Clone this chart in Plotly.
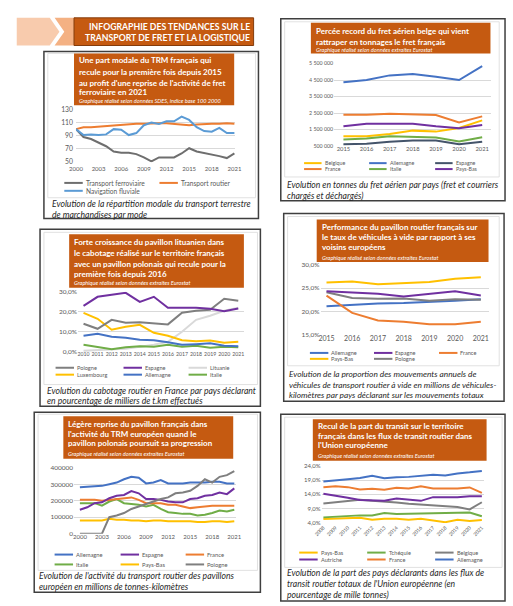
import plotly.graph_objects as go

W, H = 513, 606
FONT = "Lato"

# ---------------- DATA ----------------
# Panel 1 : répartition modale (indice base 100 2000)
p1_years = [2000, 2001, 2002, 2003, 2004, 2005, 2006, 2007, 2008, 2009, 2010,
            2011, 2012, 2013, 2014, 2015, 2016, 2017, 2018, 2019, 2020, 2021]
p1_ferroviaire = [100, 88, 85, 80, 74, 66, 64, 64, 62, 57, 51,
                  57, 57, 57, 63, 71, 66, 64, 61, 59, 56, 63]
p1_routier = [100, 103, 103, 104, 104, 106, 107, 108, 108, 108, 109,
              109, 109, 108, 106, 106, 107, 108, 108, 108, 109, 108]
p1_fluviale = [100, 91, 92, 91, 92, 100, 99, 91, 94, 106, 110,
               108, 112, 112, 119, 114, 103, 97, 96, 102, 94, 94]
p1_xticks = [2000, 2003, 2006, 2009, 2012, 2015, 2018, 2021]
p1_yticks = [50, 70, 90, 110, 130]

# Panel 2 : fret aérien (tonnes)
p2_years = [2015, 2016, 2017, 2018, 2019, 2020, 2021]
p2_belgique = [1100000, 1100000, 1240000, 1440000, 1380000, 1600000, 2060000]
p2_allemagne = [4360000, 4500000, 4780000, 4860000, 4700000, 4500000, 5340000]
p2_espagne = [620000, 640000, 760000, 840000, 840000, 620000, 760000]
p2_france = [2400000, 2400000, 2460000, 2400000, 2380000, 1940000, 2300000]
p2_italie = [900000, 960000, 1100000, 1040000, 1020000, 780000, 1040000]
p2_paysbas = [1700000, 1860000, 1860000, 1860000, 1700000, 1580000, 1780000]
p2_yticks = [500000, 1500000, 2500000, 3500000, 4500000, 5500000]
p2_yticktext = ["500 000", "1 500 000", "2 500 000", "3 500 000", "4 500 000", "5 500 000"]

# Panel 3 : cabotage routier en France (%)
p3_years = [2010, 2011, 2012, 2013, 2014, 2015, 2016, 2017, 2018, 2019, 2020, 2021]
p3_pologne = [14.0, 11.5, 16.0, 14.5, 14.8, 14.3, 13.7, 19.5, 20.5, 21.0, 26.5, 25.5]
p3_espagne = [23.0, 27.5, 28.5, 29.5, 25.0, 27.5, 22.0, 22.0, 22.0, 21.5, 20.3, 21.7]
p3_lituanie = [0.5, 0.8, 1.0, 1.5, 2.5, 3.5, 5.0, 10.0, 16.0, 18.0, 20.5, 22.0]
p3_luxembourg = [19.5, 16.5, 11.0, 12.5, 13.5, 9.5, 8.0, 5.8, 5.3, 5.6, 4.5, 5.0]
p3_allemagne = [8.0, 9.0, 7.5, 7.0, 6.0, 5.8, 4.7, 3.5, 3.8, 4.2, 3.0, 2.8]
p3_italie = [3.5, 2.5, 1.2, 2.2, 2.8, 2.5, 3.5, 2.5, 3.0, 2.0, 2.5, 2.2]
p3_yticks = [0, 10, 20, 30]
p3_yticktext = ["0,0%", "10,0%", "20,0%", "30,0%"]

# Panel 4 : véhicules à vide (%)
p4_years = [2015, 2016, 2017, 2018, 2019, 2020, 2021]
p4_allemagne = [21.1, 21.4, 21.7, 21.8, 22.0, 22.3, 22.6]
p4_espagne = [24.3, 24.1, 23.8, 23.2, 23.8, 24.3, 23.4]
p4_france = [23.4, 19.7, 18.1, 17.8, 17.3, 17.3, 17.8]
p4_paysbas = [26.2, 26.4, 25.8, 26.0, 26.3, 27.0, 27.3]
p4_pologne = [24.1, 22.9, 22.7, 22.8, 22.3, 22.6, 22.5]
p4_yticks = [15, 20, 25, 30]
p4_yticktext = ["15,0%", "20,0%", "25,0%", "30,0%"]

# Panel 5 : activité du transport routier (millions t.km)
p5_years = [2000, 2001, 2002, 2003, 2004, 2005, 2006, 2007, 2008, 2009, 2010,
            2011, 2012, 2013, 2014, 2015, 2016, 2017, 2018, 2019, 2020, 2021]
p5_allemagne = [281000, 285000, 285000, 290000, 300000, 310000, 330000, 345000, 340000, 305000, 310000,
                325000, 305000, 305000, 305000, 310000, 310000, 310000, 315000, 315000, 305000, 305000]
p5_espagne = [145000, 160000, 185000, 190000, 215000, 230000, 235000, 258000, 245000, 210000, 210000,
              205000, 195000, 190000, 190000, 210000, 215000, 230000, 235000, 250000, 240000, 275000]
p5_france = [205000, 205000, 205000, 200000, 205000, 210000, 215000, 220000, 205000, 185000, 185000,
             185000, 175000, 175000, 165000, 155000, 160000, 165000, 170000, 170000, 170000, 170000]
p5_italie = [185000, 185000, 185000, 170000, 195000, 210000, 185000, 180000, 175000, 165000, 175000,
             150000, 130000, 125000, 120000, 120000, 110000, 115000, 125000, 140000, 135000, 145000]
p5_paysbas = [80000, 80000, 80000, 80000, 90000, 85000, 85000, 80000, 80000, 75000, 80000,
              80000, 75000, 75000, 75000, 75000, 70000, 70000, 75000, 75000, 70000, 75000]
p5_pologne = [0, 0, 0, 0, 100000, 110000, 125000, 150000, 165000, 180000, 195000,
              210000, 220000, 245000, 250000, 260000, 290000, 330000, 310000, 345000, 355000, 380000]
p5_xticks = [2000, 2003, 2006, 2009, 2012, 2015, 2018, 2021]
p5_yticks = [0, 100000, 200000, 300000, 400000]
p5_yticktext = ["0", "100000", "200000", "300000", "400000"]

# Panel 6 : part du transit routier UE (%)
p6_years = [2008, 2009, 2010, 2011, 2012, 2013, 2014, 2015, 2016, 2017, 2018, 2019, 2020, 2021]
p6_paysbas = [5.3, 5.5, 5.6, 5.8, 5.1, 5.4, 5.4, 5.1, 5.4, 4.7, 4.2, 5.1, 4.6, 5.0]
p6_tchequie = [5.9, 6.2, 6.3, 6.6, 6.6, 7.4, 7.1, 7.2, 7.3, 7.5, 7.4, 7.7, 7.6, 6.3]
p6_belgique = [10.8, 11.2, 11.7, 12.1, 11.7, 11.5, 11.1, 10.7, 10.4, 10.0, 9.6, 9.5, 8.7, 11.2]
p6_autriche = [14.2, 13.6, 12.8, 12.0, 11.9, 11.7, 12.5, 12.0, 11.7, 13.0, 13.0, 13.0, 13.3, 13.3]
p6_france = [16.5, 16.8, 16.5, 15.7, 15.9, 15.6, 16.3, 16.0, 16.8, 16.0, 16.0, 16.0, 16.4, 14.5]
p6_allemagne = [18.5, 19.0, 19.3, 19.7, 20.5, 19.6, 20.0, 20.1, 20.5, 20.8, 20.6, 21.3, 21.7, 22.2]
p6_yticks = [4, 9, 14, 19, 24]
p6_yticktext = ["4,0%", "9,0%", "14,0%", "19,0%", "24,0%"]

# ---------------- STYLE ----------------
BLUE = "#4472C4"
LBLUE = "#5B9BD5"
ORANGE = "#ED7D31"
GRAY = "#7F7F7F"
DGRAY = "#6E6E6E"
PURPLE = "#7030A0"
YELLOW = "#FFC000"
GREEN = "#70AD47"
NAVY = "#44546A"
LGRAY = "#D9D9D9"
BRICK = "#C55A11"
TICK = "#595959"
TITLE_FS = 8.0
CAP_FS = 8.6


def X(px):
    return px / W


def Y(py):
    return 1 - py / H


fig = go.Figure()
layout = dict(
    width=W, height=H, margin=dict(l=0, r=0, t=0, b=0),
    paper_bgcolor="white", plot_bgcolor="rgba(0,0,0,0)",
    showlegend=False, font=dict(family=FONT, color=TICK),
)
shapes = []
annots = []


def add_axes(n, xd, yd, xr, yr, xtv, xtt, ytv, ytt, xfs=6, yfs=6.5, xangle=0, xstand=-2, ystand=0):
    sx = "" if n == 1 else str(n)
    layout["xaxis" + sx] = dict(
        domain=[X(xd[0]), X(xd[1])], range=xr, anchor="y" + sx,
        tickmode="array", tickvals=xtv, ticktext=xtt, tickangle=xangle,
        showgrid=False, zeroline=False, showline=False, ticks="",
        ticklabelstandoff=xstand,
        tickfont=dict(size=xfs, color=TICK, family=FONT), fixedrange=True)
    layout["yaxis" + sx] = dict(
        domain=[Y(yd[1]), Y(yd[0])], range=yr, anchor="x" + sx,
        tickmode="array", tickvals=ytv, ticktext=ytt,
        showgrid=True, gridcolor=LGRAY, gridwidth=0.8, zeroline=False,
        showline=False, ticks="", ticklabelstandoff=ystand,
        tickfont=dict(size=yfs, color=TICK, family=FONT), fixedrange=True)


def add_line(n, x, y, name, color, width=2):
    sx = "" if n == 1 else str(n)
    fig.add_trace(go.Scatter(x=x, y=y, name=name, mode="lines",
                             line=dict(color=color, width=width),
                             xaxis="x" + sx, yaxis="y" + sx))


def box(x0, y0, x1, y1, line="#3F3F3F", lw=1.5, fill="rgba(0,0,0,0)", layer="below"):
    shapes.append(dict(type="rect", xref="paper", yref="paper",
                       x0=X(x0), x1=X(x1), y0=Y(y1), y1=Y(y0),
                       line=dict(color=line, width=lw), fillcolor=fill, layer=layer))


def text(x, y, s, size, color="white", anchor="left", italic=False, bold=False):
    if bold:
        s = "<b>" + s + "</b>"
    if italic:
        s = "<i>" + s + "</i>"
    annots.append(dict(xref="paper", yref="paper", x=X(x), y=Y(y), text=s,
                       showarrow=False, xanchor=anchor, yanchor="middle",
                       font=dict(size=size, color=color, family=FONT)))


def title_block(x, ys, lines, sub):
    for yy, ln in zip(ys[:-1], lines):
        text(x, yy, ln, TITLE_FS, bold=True)
    text(x, ys[-1], sub, 5.6, italic=True)


def caption(x, ys, lines, size=CAP_FS):
    for yy, ln in zip(ys, lines):
        text(x, yy, ln, size, color="#262626", italic=True)


def legend(items, cols, rows, size=5.8, sample=19):
    for i, (name, color) in enumerate(items):
        cx = cols[i % len(cols)]
        ry = rows[i // len(cols)]
        shapes.append(dict(type="line", xref="paper", yref="paper",
                           x0=X(cx), x1=X(cx + sample), y0=Y(ry), y1=Y(ry),
                           line=dict(color=color, width=2)))
        text(cx + sample + 1, ry, name, size, color=TICK)


# ---------------- HEADER ----------------
shapes.append(dict(type="path", xref="paper", yref="paper",
                   path="M {},{} L {},{} L {},{} L {},{} L {},{} Z".format(
                       X(9), Y(14), X(43), Y(14), X(53), Y(28), X(43), Y(42), X(9), Y(42)),
                   fillcolor="#F8CBAD", line=dict(width=0)))
shapes.append(dict(type="path", xref="paper", yref="paper",
                   path="M {},{} L {},{} L {},{} L {},{} L {},{} Z".format(
                       X(48), Y(14), X(70), Y(14), X(70), Y(42), X(48), Y(42), X(58), Y(28)),
                   fillcolor="#F4B183", line=dict(width=0)))
box(68, 14, 253, 42, line="#843C0C", lw=1, fill=BRICK, layer="above")
text(251, 23, "INFOGRAPHIE DES TENDANCES SUR LE", 8.7, anchor="right", bold=True)
text(251, 34, "TRANSPORT DE FRET ET LA LOGISTIQUE", 8.7, anchor="right", bold=True)

# ---------------- PANEL 1 ----------------
box(37, 48, 258, 217)
box(41, 50, 255, 196, line=LGRAY, lw=0.8)
box(68, 50, 233, 102.5, line=BRICK, lw=0, fill=BRICK, layer="below")
title_block(71, [57, 68.5, 79.5, 89.5, 98],
            ["Une part modale du TRM français qui",
             "recule pour la première fois depuis 2015",
             "au profit d'une reprise de l'activité de fret",
             "ferroviaire en 2021"],
            "Graphique réalisé selon données SDES, indice base 100 2000")
add_axes(1, (70, 234), (106.5, 160), [2000, 2021.1], [49.8, 130.2],
         p1_xticks, [str(v) for v in p1_xticks], p1_yticks, [str(v) for v in p1_yticks],
         xfs=6, yfs=6.8, xstand=2, ystand=2)
add_line(1, p1_years, p1_ferroviaire, "Transport ferroviaire", DGRAY)
add_line(1, p1_years, p1_routier, "Transport routier", ORANGE)
add_line(1, p1_years, p1_fluviale, "Navigation fluviale", LBLUE)
legend([("Transport ferroviaire", DGRAY), ("Transport routier", ORANGE),
        ("Navigation fluviale", LBLUE)], [58, 156], [181, 189], size=6.6)
caption(43, [202, 213], ["Evolution de la répartition modale du transport terrestre",
                         "de marchandises par mode"])

# ---------------- PANEL 2 ----------------
box(281, 15, 512, 199)
box(285, 18, 506, 175, line=LGRAY, lw=0.8)
box(312, 19, 497, 50, line=BRICK, lw=0, fill=BRICK, layer="below")
title_block(315, [27, 38, 46],
            ["Percée record du fret aérien belge qui vient",
             "rattraper en tonnages le fret français"],
            "Graphique réalisé selon données extraites Eurostat")
add_axes(2, (336, 498), (60, 144), [2014.6, 2021.4], [490000, 5510000],
         p2_years, [str(v) for v in p2_years], p2_yticks, p2_yticktext, xfs=5.8, yfs=5.3)
add_line(2, p2_years, p2_belgique, "Belgique", YELLOW)
add_line(2, p2_years, p2_allemagne, "Allemagne", BLUE)
add_line(2, p2_years, p2_espagne, "Espagne", NAVY)
add_line(2, p2_years, p2_france, "France", ORANGE)
add_line(2, p2_years, p2_italie, "Italie", GREEN)
add_line(2, p2_years, p2_paysbas, "Pays-Bas", PURPLE)
legend([("Belgique", YELLOW), ("Allemagne", BLUE), ("Espagne", NAVY),
        ("France", ORANGE), ("Italie", GREEN), ("Pays-Bas", PURPLE)],
       [305, 372, 440], [161, 167], size=5.3, sample=18)
caption(285, [183, 194], ["Evolution en tonnes du fret aérien par pays (fret et courriers",
                          "chargés et déchargés)"])

# ---------------- PANEL 3 ----------------
box(33, 228, 260, 407)
box(37, 231, 257, 385, line=LGRAY, lw=0.8)
box(63, 233, 243, 287, line=BRICK, lw=0, fill=BRICK, layer="below")
title_block(66, [241, 252, 263, 273, 282],
            ["Forte croissance du pavillon lituanien dans",
             "le cabotage réalisé sur le territoire français",
             "avec un pavillon polonais qui recule pour la",
             "première fois depuis 2016"],
            "Graphique réalisé selon données extraites Eurostat")
add_axes(3, (72, 243), (291, 352), [2009.6, 2021.4], [-0.1, 30.1],
         p3_years, [str(v) for v in p3_years], p3_yticks, p3_yticktext, xfs=5.2, yfs=6.5)
add_line(3, p3_years, p3_lituanie, "Lituanie", LGRAY)
add_line(3, p3_years, p3_italie, "Italie", GREEN)
add_line(3, p3_years, p3_allemagne, "Allemagne", BLUE)
add_line(3, p3_years, p3_luxembourg, "Luxembourg", YELLOW)
add_line(3, p3_years, p3_pologne, "Pologne", GRAY)
add_line(3, p3_years, p3_espagne, "Espagne", PURPLE)
legend([("Pologne", GRAY), ("Espagne", PURPLE), ("Lituanie", LGRAY),
        ("Luxembourg", YELLOW), ("Allemagne", BLUE), ("Italie", GREEN)],
       [49, 119, 186], [368, 375], size=5.6)
caption(38, [392, 402], ["Evolution du cabotage routier en France par pays déclarant",
                         "en pourcentage de milliers de t.km effectués"])

# ---------------- PANEL 4 ----------------
box(284, 212, 511, 402)
box(288, 215, 506, 366, line=LGRAY, lw=0.8)
box(318, 218, 495, 261, line=BRICK, lw=0, fill=BRICK, layer="below")
title_block(321, [226, 236, 246, 256],
            ["Performance du pavillon routier français sur",
             "le taux de véhicules à vide par rapport à ses",
             "voisins européens"],
            "Graphique réalisé selon données extraites Eurostat")
add_axes(4, (322, 495), (263.5, 335), [2014.77, 2021.3], [14.95, 30.05],
         p4_years, [str(v) for v in p4_years], p4_yticks, p4_yticktext, xfs=7, yfs=6.5)
add_line(4, p4_years, p4_allemagne, "Allemagne", BLUE)
add_line(4, p4_years, p4_pologne, "Pologne", GRAY)
add_line(4, p4_years, p4_espagne, "Espagne", PURPLE)
add_line(4, p4_years, p4_france, "France", ORANGE)
add_line(4, p4_years, p4_paysbas, "Pays-Bas", YELLOW)
legend([("Allemagne", BLUE), ("Espagne", PURPLE), ("France", ORANGE),
        ("Pays-Bas", YELLOW), ("Pologne", GRAY)],
       [311, 377, 444], [353, 359], size=5.6)
caption(287, [374, 385, 396], ["Evolution de la proportion des mouvements annuels de",
                               "véhicules de transport routier à vide en millions de véhicules-",
                               "kilomètres par pays déclarant sur les mouvements totaux"],
        size=8.3)

# ---------------- PANEL 5 ----------------
box(27, 413, 260, 595)
box(31, 415, 257, 573, line=LGRAY, lw=0.8)
box(57, 417, 232, 460, line=BRICK, lw=0, fill=BRICK, layer="below")
title_block(60, [425, 435, 444, 455],
            ["Légère reprise du pavillon français dans",
             "l'activité du TRM européen quand le",
             "pavillon polonais poursuit sa progression"],
            "Graphique réalisé selon données extraites Eurostat")
add_axes(5, (68, 235), (469, 536), [1999.2, 2021.25], [-1000, 401000],
         p5_xticks, [str(v) for v in p5_xticks], p5_yticks, p5_yticktext, xfs=6, yfs=6.5)
add_line(5, p5_years, p5_paysbas, "Pays-Bas", YELLOW)
add_line(5, p5_years, p5_italie, "Italie", GREEN)
add_line(5, p5_years, p5_france, "France", ORANGE)
add_line(5, p5_years, p5_espagne, "Espagne", PURPLE)
add_line(5, p5_years, p5_allemagne, "Allemagne", BLUE)
add_line(5, p5_years, p5_pologne, "Pologne", GRAY)
legend([("Allemagne", BLUE), ("Espagne", PURPLE), ("France", ORANGE),
        ("Italie", GREEN), ("Pays-Bas", YELLOW), ("Pologne", GRAY)],
       [48, 116, 183], [557, 567], size=5.8)
caption(30, [579, 590], ["Evolution de l'activité du transport routier des pavillons",
                         "européen en millions de tonnes-kilomètres"])

# ---------------- PANEL 6 ----------------
box(281, 415, 512, 604)
box(285, 418, 509, 570, line=LGRAY, lw=0.8)
box(314, 420, 493, 462, line=BRICK, lw=0, fill=BRICK, layer="below")
title_block(317, [427, 437, 446, 457],
            ["Recul de la part du transit sur le territoire",
             "français dans les flux de transit routier dans",
             "l'Union européenne"],
            "Graphique réalisé selon données extraites Eurostat")
add_axes(6, (323, 490), (467, 525), [2007.85, 2021.15], [3.95, 24.05],
         p6_years, [str(v) for v in p6_years], p6_yticks, p6_yticktext,
         xfs=5, yfs=6, xangle=-45, xstand=0)
add_line(6, p6_years, p6_paysbas, "Pays-Bas", YELLOW)
add_line(6, p6_years, p6_tchequie, "Tchéquie", GREEN)
add_line(6, p6_years, p6_belgique, "Belgique", GRAY)
add_line(6, p6_years, p6_autriche, "Autriche", PURPLE)
add_line(6, p6_years, p6_france, "France", ORANGE)
add_line(6, p6_years, p6_allemagne, "Allemagne", BLUE)
legend([("Pays-Bas", YELLOW), ("Tchéquie", GREEN), ("Belgique", GRAY),
        ("Autriche", PURPLE), ("France", ORANGE), ("Allemagne", BLUE)],
       [300, 370, 440], [555, 562], size=5.6)
caption(285, [576, 587, 598], ["Evolution de la part des pays déclarants dans les flux de",
                               "transit routier totaux de l'Union européenne (en",
                               "pourcentage de mille tonnes)"])

layout["shapes"] = shapes
layout["annotations"] = annots
fig.update_layout(**layout)
fig.write_html("out.html", config={"displayModeBar": False},
               post_script="document.body.style.margin='0';document.body.style.overflow='hidden';")
